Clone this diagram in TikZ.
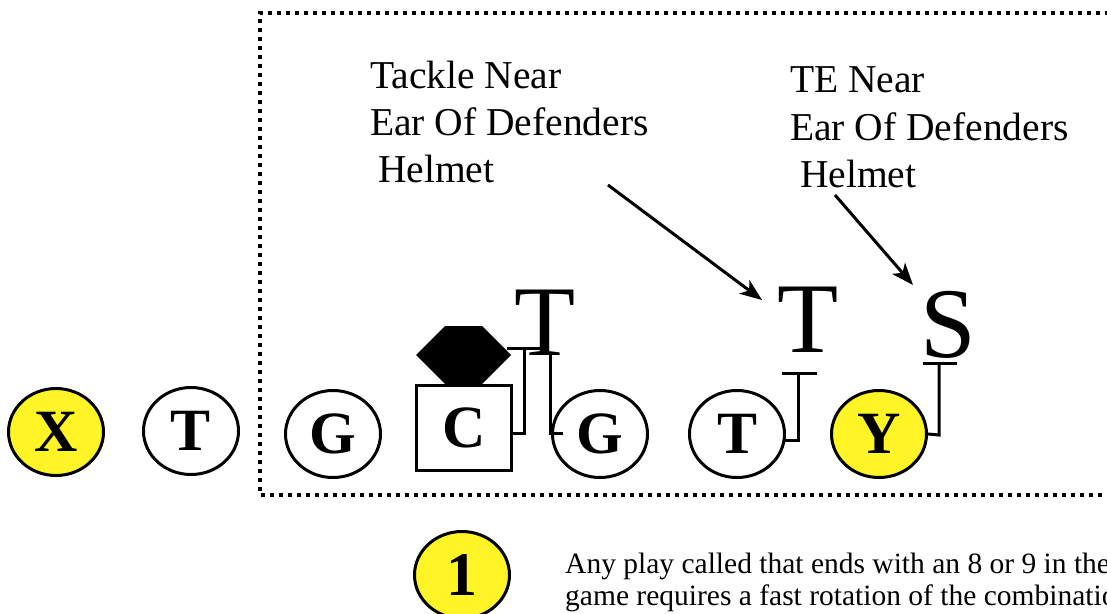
\documentclass[tikz,border=0pt]{standalone}
\usepackage{fontspec}
\setmainfont{Liberation Serif}
\usetikzlibrary{shapes.geometric,arrows.meta}
\begin{document}
\begin{tikzpicture}[x=1pt,y=-1pt,
  player/.style={ellipse,draw,line width=3pt,minimum width=95pt,minimum height=87pt,inner sep=0pt,font=\fontsize{60}{60}\selectfont\bfseries},
  yplayer/.style={player,fill=yellow!85!white},
  bigletter/.style={anchor=base,font=\fontsize{100}{100}\selectfont,inner sep=0pt},
  lbl/.style={anchor=base west,font=\fontsize{39.5}{39.5}\selectfont,inner sep=0pt},
  note/.style={anchor=base west,font=\fontsize{29.5}{29.5}\selectfont,inner sep=0pt},
  bracket/.style={line width=3pt},
  arr/.style={line width=3pt,-{Stealth[length=22pt,width=17pt,inset=6pt]}}]
\useasboundingbox (0,0) rectangle (1107,613);
% dotted frame
\draw[line width=3.5pt,dash pattern=on 4pt off 5pt] (1120,495) -- (260,495) -- (260,13) -- (1120,13);
% players
\node[yplayer] (X) at (56,432) {X};
\node[player] (T1) at (191,431) {T};
\node[player] (G1) at (333,434) {G};
\node[draw,line width=3pt,minimum width=95pt,minimum height=85pt,inner sep=0pt,font=\fontsize{60}{60}\selectfont\bfseries] (C) at (464,428) {C};
\node[player] (G2) at (600,434) {G};
\node[player] (T2) at (737,434) {T};
\node[yplayer] (Y) at (879,434) {Y};
% hexagon over center
\fill (416,355) -- (445,326) -- (482,326) -- (511,355) -- (482,384) -- (445,384) -- cycle;
% defenders
\node[bigletter] (DT1) at (545,355) {T};
\node[bigletter] (DT2) at (808,352) {T};
\node[bigletter] (DS) at (948,357) {S};
% brackets
\draw[bracket] (507,348) -- (540,348);
\draw[bracket] (524,348) -- (524,433) -- (C.east |- 0,433);
\draw[bracket] (533,353) -- (550,353);
\draw[bracket] (550,353) -- (550,433) -- (563,433);
\draw[bracket] (782,373) -- (817,373);
\draw[bracket] (798,373) -- (798,440) -- (783,440);
\draw[bracket] (923,363) -- (957,363);
\draw[bracket] (939,363) -- (939,435) -- (Y.east);
% labels
\node[lbl] (L1) at (370,88) {Tackle Near};
\node[lbl] (L2) at (370,135) {Ear Of Defenders};
\node[lbl] (L3) at (378,182) {Helmet};
\node[lbl] (R1) at (790,92) {TE Near};
\node[lbl] (R2) at (790,140) {Ear Of Defenders};
\node[lbl] (R3) at (800,187) {Helmet};
% arrows
\coordinate (a1s) at (608,185); \coordinate (a1e) at (762,300);
\coordinate (a2s) at (835,195); \coordinate (a2e) at (913,285);
\draw[arr] (a1s) -- (a1e);
\draw[arr] (a2s) -- (a2e);
% footnote
\node[yplayer,font=\fontsize{62}{62}\selectfont\bfseries] (N1) at (462,575) {1};
\node[note] (F1) at (565,573) {Any play called that ends with an 8 or 9 in the};
\node[note] (F2) at (565,605) {game requires a fast rotation of the combination};
\end{tikzpicture}
\end{document}
